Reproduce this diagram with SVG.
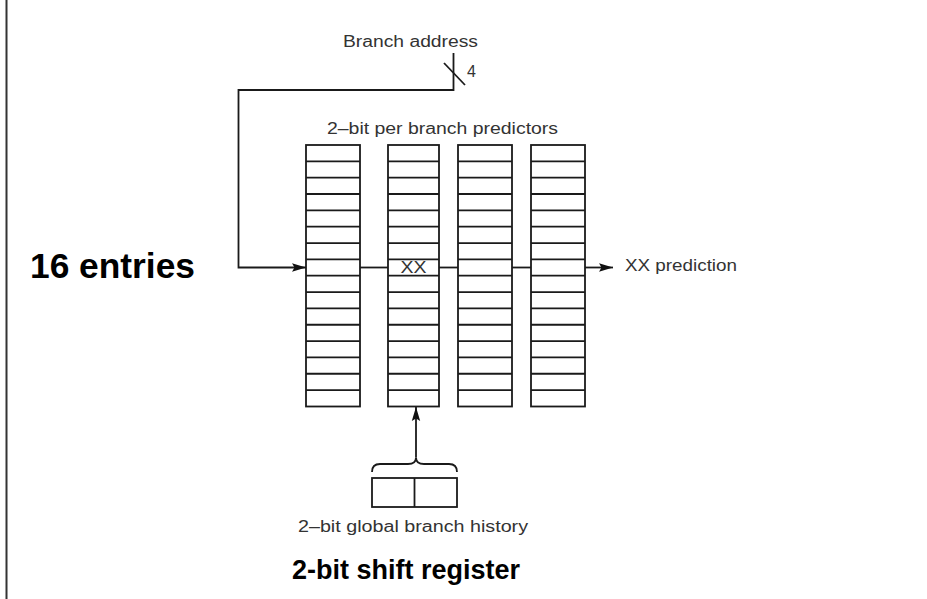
<svg xmlns="http://www.w3.org/2000/svg" width="927" height="599" viewBox="0 0 927 599">
<defs>
<style>
.ln{stroke:#1a1a1a;stroke-width:1.8;fill:none}
.cell{stroke:#1a1a1a;stroke-width:1.8;fill:#fff}
.t{font-family:"Liberation Sans",Arial,sans-serif;fill:#333;font-size:16px}
.b{font-family:"Liberation Sans",Arial,sans-serif;fill:#000;font-weight:bold}
</style>
<marker id="ah" markerUnits="userSpaceOnUse" markerWidth="15" markerHeight="10" refX="14" refY="5" orient="auto">
<path d="M0,0.8 L14,5 L0,9.2 L2.5,5 Z" fill="#111"/>
</marker>
</defs>
<rect width="927" height="599" fill="#fff"/>
<line x1="6.5" y1="0" x2="6.5" y2="599" stroke="#333" stroke-width="2"/>

<g id="col1">
<rect class="cell" x="306" y="145" width="54" height="261.5"/>
<path class="ln" d="M306,161.34h54M306,177.68h54M306,194.02h54M306,210.36h54M306,226.7h54M306,243.04h54M306,259.38h54M306,275.72h54M306,292.06h54M306,308.4h54M306,324.74h54M306,341.08h54M306,357.42h54M306,373.76h54M306,390.1h54"/>
</g>
<g id="col2">
<rect class="cell" x="388" y="145" width="51" height="261.5"/>
<path class="ln" d="M388,161.34h51M388,177.68h51M388,194.02h51M388,210.36h51M388,226.7h51M388,243.04h51M388,259.38h51M388,275.72h51M388,292.06h51M388,308.4h51M388,324.74h51M388,341.08h51M388,357.42h51M388,373.76h51M388,390.1h51"/>
<text class="t" x="413.5" y="273" text-anchor="middle" textLength="26" lengthAdjust="spacingAndGlyphs">XX</text>
</g>
<g id="col3">
<rect class="cell" x="458" y="145" width="54" height="261.5"/>
<path class="ln" d="M458,161.34h54M458,177.68h54M458,194.02h54M458,210.36h54M458,226.7h54M458,243.04h54M458,259.38h54M458,275.72h54M458,292.06h54M458,308.4h54M458,324.74h54M458,341.08h54M458,357.42h54M458,373.76h54M458,390.1h54"/>
</g>
<g id="col4">
<rect class="cell" x="531" y="145" width="54" height="261.5"/>
<path class="ln" d="M531,161.34h54M531,177.68h54M531,194.02h54M531,210.36h54M531,226.7h54M531,243.04h54M531,259.38h54M531,275.72h54M531,292.06h54M531,308.4h54M531,324.74h54M531,341.08h54M531,357.42h54M531,373.76h54M531,390.1h54"/>
</g>

<g id="register">
<rect class="ln" x="372" y="478" width="85" height="29"/>
<line class="ln" x1="414.5" y1="478" x2="414.5" y2="507"/>
<path class="ln" d="M372,472 Q372,464 380,464 L408,464 Q416,464 416,457.5 Q416,464 424,464 L449,464 Q457,464 457,472"/>
</g>

<g id="connectors">
<polyline class="ln" points="453.5,53 453.5,90 238.5,90 238.5,267.5 306,267.5" marker-end="url(#ah)"/>
<line class="ln" x1="444" y1="63" x2="465" y2="85"/>
<line class="ln" x1="360" y1="267.5" x2="388" y2="267.5"/>
<line class="ln" x1="439" y1="267.5" x2="458" y2="267.5"/>
<line class="ln" x1="512" y1="267.5" x2="531" y2="267.5"/>
<line class="ln" x1="585" y1="267.5" x2="613" y2="267.5" marker-end="url(#ah)"/>
<line class="ln" x1="416" y1="457.5" x2="416" y2="407" marker-end="url(#ah)"/>
</g>

<g id="labels">
<text class="t" x="343" y="47" textLength="135" lengthAdjust="spacingAndGlyphs">Branch address</text>
<text class="t" x="467" y="77" font-size="13">4</text>
<text class="t" x="327" y="134" textLength="231" lengthAdjust="spacingAndGlyphs">2–bit per branch predictors</text>
<text class="t" x="625" y="271" textLength="112" lengthAdjust="spacingAndGlyphs">XX prediction</text>
<text class="t" x="298" y="532" font-size="17" textLength="230" lengthAdjust="spacingAndGlyphs">2–bit global branch history</text>
<text class="b" x="30" y="278" font-size="35" textLength="165" lengthAdjust="spacingAndGlyphs">16 entries</text>
<text class="b" x="292" y="579" font-size="27">2-bit shift register</text>
</g>
</svg>
